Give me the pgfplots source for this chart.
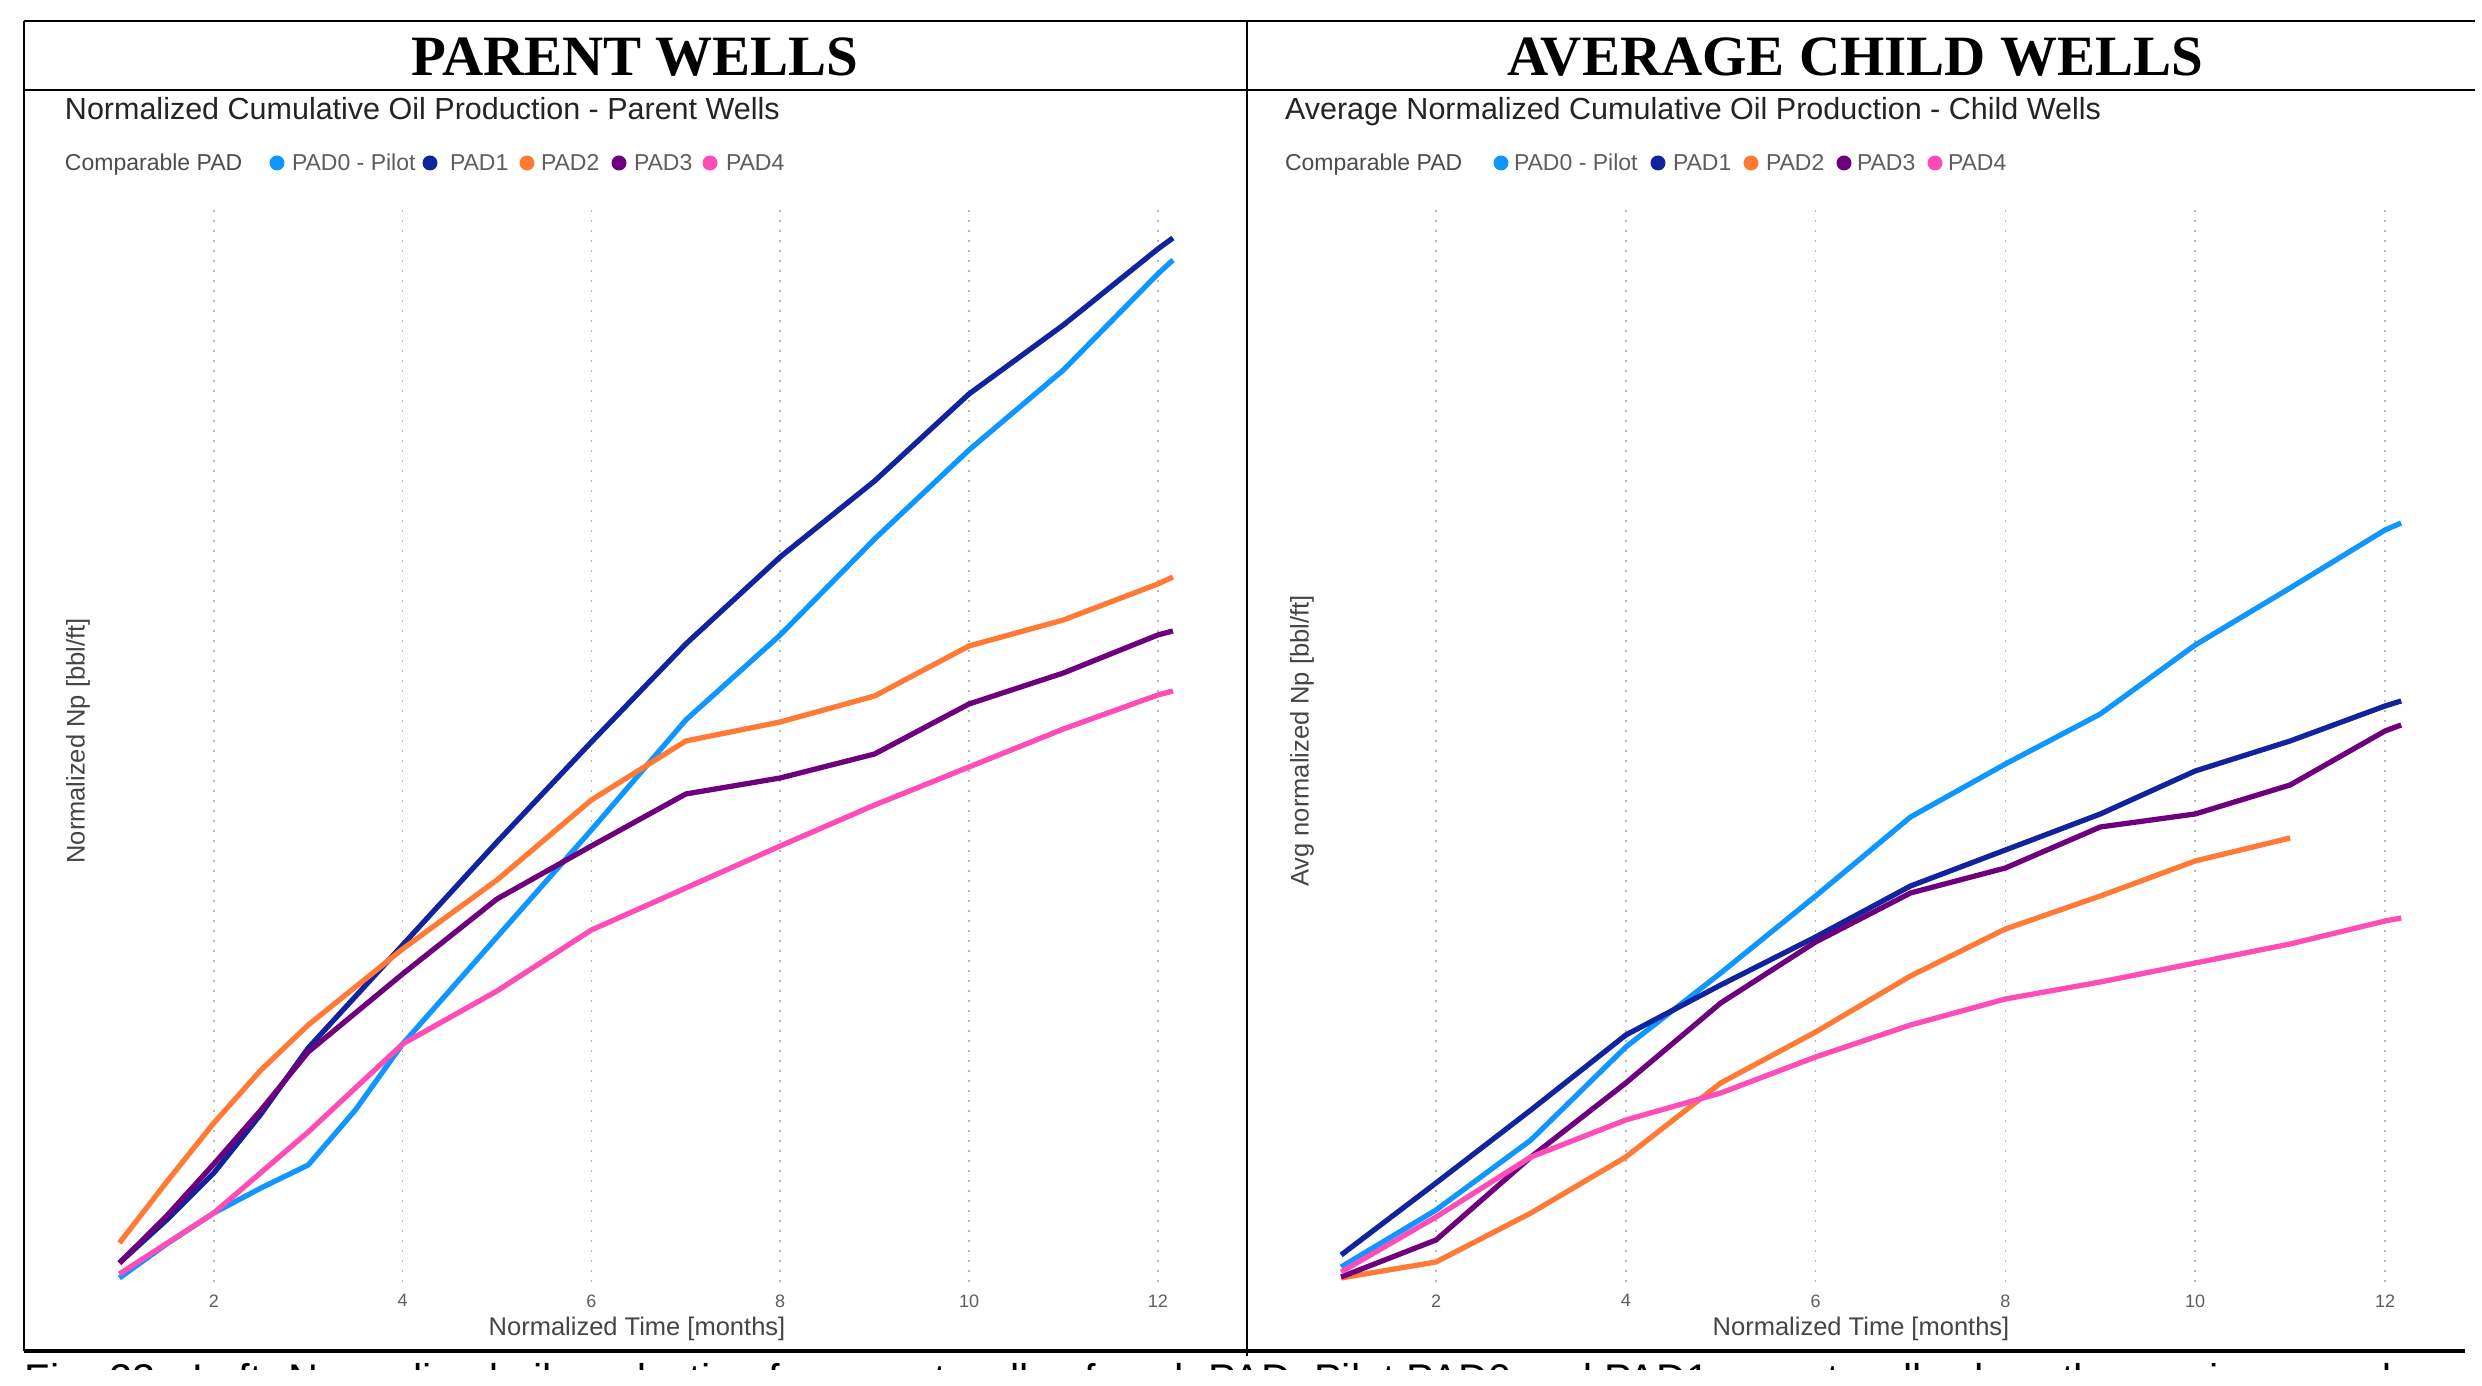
\documentclass[border=0pt]{standalone}
\usepackage{pgfplots}
\pgfplotsset{compat=1.18}
\usepackage{fontspec}
\setmainfont{Liberation Sans}
\newfontfamily\titlefont{Liberation Serif}

\definecolor{c0}{HTML}{0F96FF}
\definecolor{c1}{HTML}{12239E}
\definecolor{c2}{HTML}{FF7A35}
\definecolor{c3}{HTML}{6E007D}
\definecolor{c4}{HTML}{FF4DB8}
\definecolor{txt}{HTML}{252423}
\definecolor{lab}{HTML}{605E5C}

\pgfplotsset{
  pbi/.style={
    y=0.2pt, xmin=1, xmax=12.3, ymin=0, ymax=1075,
    axis x line*=bottom, axis y line*=left, axis line style={draw=none},
    ytick=\empty, xtick={2,4,...,12}, major tick length=0pt,
    xmajorgrids, grid style={lab!45, line width=0.3pt, dash pattern=on 0.4pt off 1.6pt},
    xticklabel style={font=\fontsize{3.6}{4}\selectfont, text=lab, inner sep=0pt, anchor=north, yshift=-2.3pt},
    /pgf/number format/assume math mode=true,
    clip=false,
    every axis plot/.append style={line width=1.05pt, no markers, line join=round},
  },
}
\tikzset{leg/.style={font=\fontsize{4.6}{5}\selectfont, text=lab, inner sep=0pt, anchor=base west}}

\begin{document}
\begin{tikzpicture}[x=0.2pt, y=0.2pt]
\useasboundingbox (0,0) rectangle (2482,1386);
\clip (0,0) rectangle (2482,1386);
% page
\fill[white] (0,0) rectangle (2482,1386);

% caption, cut by the page crop
\node[anchor=north west, inner sep=0pt, font=\fontsize{8.3}{9}\selectfont] at (24,24)
  {Fig. 23 - Left: Normalized oil production for parent wells of each PAD, Pilot PAD0 and PAD1 parent wells show the maximum and};
\fill[white] (0,-60) rectangle (2482,16);

% frame
\draw[line width=0.5pt] (24,1365) -- (2475,1365);
\draw[line width=0.5pt] (24,1296) -- (2475,1296);
\draw[line width=0.8pt] (24,35) -- (2465,35);
\draw[line width=0.5pt] (24,1365) -- (24,35);
\draw[line width=0.5pt] (1247,1365) -- (1247,30);

% titles
\node[anchor=base, inner sep=0pt, font=\titlefont\fontsize{11.4}{12}\selectfont\bfseries] at (635,1310) {PARENT WELLS};
\node[anchor=base, inner sep=0pt, font=\titlefont\fontsize{11.4}{12}\selectfont\bfseries] at (1855,1310) {AVERAGE CHILD WELLS};

\node[anchor=base west, inner sep=0pt, text=txt, font=\fontsize{6.1}{7}\selectfont] at (64,1266) {Normalized Cumulative Oil Production - Parent Wells};
\node[anchor=base west, inner sep=0pt, text=txt, font=\fontsize{6.1}{7}\selectfont] at (1284,1266) {Average Normalized Cumulative Oil Production - Child Wells};

% legends
\node[leg, text=lab!80!black] at (64,1215) {Comparable PAD};
\fill[c0] (277,1223) circle (1.5pt); \node[leg] at (291,1215) {PAD0 - Pilot};
\fill[c1] (430,1223) circle (1.5pt); \node[leg] at (449,1215) {PAD1};
\fill[c2] (527,1223) circle (1.5pt); \node[leg] at (540,1215) {PAD2};
\fill[c3] (619,1223) circle (1.5pt); \node[leg] at (633,1215) {PAD3};
\fill[c4] (710,1223) circle (1.5pt); \node[leg] at (725,1215) {PAD4};

\node[leg, text=lab!80!black] at (1284,1215) {Comparable PAD};
\fill[c0] (1501,1223) circle (1.5pt); \node[leg] at (1513,1215) {PAD0 - Pilot};
\fill[c1] (1658,1223) circle (1.5pt); \node[leg] at (1672,1215) {PAD1};
\fill[c2] (1751,1223) circle (1.5pt); \node[leg] at (1765,1215) {PAD2};
\fill[c3] (1844,1223) circle (1.5pt); \node[leg] at (1856,1215) {PAD3};
\fill[c4] (1935,1223) circle (1.5pt); \node[leg] at (1947,1215) {PAD4};

% axis titles
\node[rotate=90, inner sep=0pt, text=txt!85, font=\fontsize{5.1}{6}\selectfont] at (78,645) {Normalized Np [bbl/ft]};
\node[rotate=90, inner sep=0pt, text=txt!85, font=\fontsize{5.1}{6}\selectfont] at (1302,645) {Avg normalized Np [bbl/ft]};
\node[inner sep=0pt, text=txt!85, font=\fontsize{5.1}{6}\selectfont] at (637,57) {Normalized Time [months]};
\node[inner sep=0pt, text=txt!85, font=\fontsize{5.1}{6}\selectfont] at (1861,57) {Normalized Time [months]};

% parent wells
\begin{axis}[pbi, x=18.88pt, at={(23.88pt,20.8pt)}, anchor=south west]
\addplot[c0] coordinates {(1,4) (1.5,38) (2,69) (2.5,94) (3,117) (3.5,172) (4,238) (5,345) (6,452) (7,562) (8,647) (9,743) (10,832) (11,912) (12,1008) (12.16,1022)};
\addplot[c1] coordinates {(1,19) (1.5,62) (2,109) (2.5,168) (3,234) (4,337) (5,440) (6,540) (7,638) (8,725) (9,801) (10,888) (11,957) (12,1033) (12.16,1044)};
\addplot[c2] coordinates {(1,39) (1.5,100) (2,159) (2.5,212) (3,257) (4,333) (5,402) (6,482) (7,541) (8,560) (9,586) (10,636) (11,662) (12,698) (12.16,705)};
\addplot[c3] coordinates {(1,19) (1.5,66) (2,118) (2.5,172) (3,230) (4,308) (5,383) (6,436) (7,488) (8,504) (9,528) (10,578) (11,609) (12,647) (12.16,651)};
\addplot[c4] coordinates {(1,8) (2,69) (3,150) (4,238) (5,291) (6,352) (7,394) (8,436) (9,477) (10,515) (11,553) (12,587) (12.16,591)};
\end{axis}

% child wells
\begin{axis}[pbi, x=18.98pt, at={(268.22pt,20.8pt)}, anchor=south west]
\addplot[c0] coordinates {(1,15) (2,72) (3,142) (4,235) (5,309) (6,386) (7,465) (8,518) (9,568) (10,637) (11,694) (12,752) (12.17,759)};
\addplot[c1] coordinates {(1,27) (2,99) (3,172) (4,247) (5,297) (6,345) (7,396) (8,432) (9,468) (10,511) (11,541) (12,576) (12.17,581)};
\addplot[c2] coordinates {(1,4) (2,20) (3,69) (4,125) (5,199) (6,250) (7,306) (8,353) (9,386) (10,421) (11,444)};
\addplot[c3] coordinates {(1,5) (2,42) (3,125) (4,199) (5,279) (6,340) (7,389) (8,414) (9,455) (10,468) (11,497) (12,551) (12.17,557)};
\addplot[c4] coordinates {(1,10) (2,65) (3,125) (4,162) (5,189) (6,225) (7,257) (8,283) (9,300) (10,319) (11,338) (12,361) (12.17,364)};
\end{axis}
\end{tikzpicture}
\end{document}
